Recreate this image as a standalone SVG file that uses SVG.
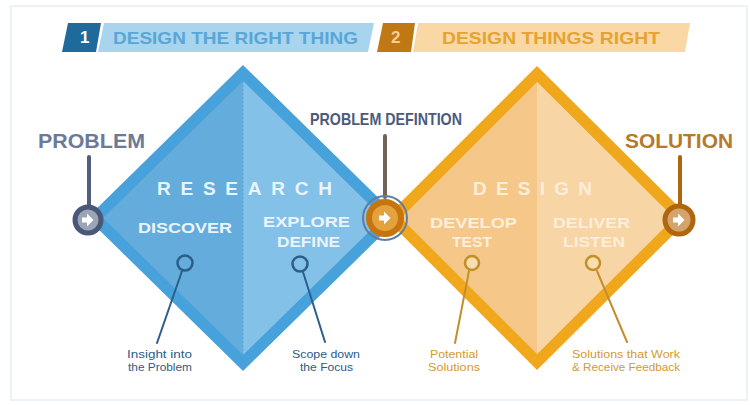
<svg xmlns="http://www.w3.org/2000/svg" width="750" height="405" viewBox="0 0 750 405">
<defs>
<style>
.hdr{font-family:"Liberation Sans","DejaVu Sans",sans-serif;font-weight:bold;font-size:17px}
.big{font-family:"Liberation Sans",sans-serif;font-weight:bold;font-size:20px}
.mid{font-family:"Liberation Sans",sans-serif;font-weight:bold;font-size:15px}
.phase{font-family:"Liberation Sans",sans-serif;font-weight:bold;font-size:19px}
.sm{font-family:"Liberation Sans",sans-serif;font-size:11px}
.bt{fill:#EAF4FB}
.ot{fill:#FCEEDA}
.blab{fill:#2B5C86}
.olab{fill:#D39A32}
.arrow{fill:#FFFFFF}
</style>
<path id="arr" d="M-6,-2.5 h5 v-4 l6.5,6.5 l-6.5,6.5 v-4 h-5 z"/>
</defs>
<rect x="0" y="0" width="750" height="405" fill="#FFFFFF"/>
<rect x="11" y="6" width="736" height="394" fill="none" stroke="#E6EEF4" stroke-width="1.5"/>

<g id="header1">
<polygon points="68,23 101,23 96,52 62,52" fill="#1E6A9A"/>
<text class="hdr" x="80" y="43" fill="#FFFFFF" font-size="13">1</text>
<polygon points="104,23 374,23 368,52 98,52" fill="#A8D4EE"/>
<text class="hdr" x="113" y="44" fill="#5AA6D6" textLength="245" lengthAdjust="spacingAndGlyphs">DESIGN THE RIGHT THING</text>
</g>
<g id="header2">
<polygon points="383,23 415,23 411,52 377,52" fill="#C07814"/>
<text class="hdr" x="391" y="43" fill="#F6CF95" font-size="13">2</text>
<polygon points="418,23 690,23 685,52 413,52" fill="#F9D8A6"/>
<text class="hdr" x="442" y="44" fill="#E5A332" textLength="218" lengthAdjust="spacingAndGlyphs">DESIGN THINGS RIGHT</text>
</g>

<g id="research">
<polygon points="243,65 399,218 243,371 87,218" fill="#47A1DA"/>
<polygon points="243,81 383,218 243,355 103,218" fill="#64ACDB"/>
<polygon points="243,81 383,218 243,355" fill="#84C1E8"/>
<line x1="243" y1="81" x2="243" y2="355" stroke="#5FA6D6" stroke-width="1" stroke-dasharray="2,2"/>
<text class="phase bt" x="157" y="195" textLength="175" lengthAdjust="spacing">RESEARCH</text>
<text class="mid bt" x="138" y="233" textLength="94" lengthAdjust="spacingAndGlyphs">DISCOVER</text>
<text class="mid bt" x="263" y="227" textLength="87" lengthAdjust="spacingAndGlyphs">EXPLORE</text>
<text class="mid bt" x="277" y="247" textLength="63" lengthAdjust="spacingAndGlyphs">DEFINE</text>
</g>

<g id="design">
<polygon points="537,66 690,218 537,370 385,218" fill="#F1A71C"/>
<polygon points="537,82 674,218 537,354 401,218" fill="#F5C889"/>
<polygon points="537,82 674,218 537,354" fill="#F7D5A5"/>
<text class="phase ot" x="473" y="195" textLength="119" lengthAdjust="spacing">DESIGN</text>
<text class="mid ot" x="430" y="228" textLength="87" lengthAdjust="spacingAndGlyphs">DEVELOP</text>
<text class="mid ot" x="452" y="247" textLength="40" lengthAdjust="spacingAndGlyphs">TEST</text>
<text class="mid ot" x="553" y="228" textLength="77" lengthAdjust="spacingAndGlyphs">DELIVER</text>
<text class="mid ot" x="563" y="247" textLength="62" lengthAdjust="spacingAndGlyphs">LISTEN</text>
</g>

<g id="connectors" fill="none" stroke-linecap="round">
<line x1="89" y1="157" x2="89" y2="206" stroke="#4E5E7E" stroke-width="4"/>
<line x1="385" y1="136" x2="385" y2="197" stroke="#6F6456" stroke-width="4"/>
<line x1="680" y1="157" x2="680" y2="205" stroke="#B0650F" stroke-width="4"/>
<line x1="182" y1="271" x2="157" y2="343" stroke="#2D5E8A" stroke-width="2"/>
<line x1="303" y1="272" x2="325" y2="342" stroke="#2D5E8A" stroke-width="2"/>
<line x1="469" y1="271" x2="455" y2="343" stroke="#C38F2A" stroke-width="2"/>
<line x1="597" y1="271" x2="627" y2="342" stroke="#C38F2A" stroke-width="2"/>
</g>

<g id="problem">
<text class="big" x="38" y="148" fill="#6C7A98" textLength="107" lengthAdjust="spacingAndGlyphs">PROBLEM</text>
<circle cx="88" cy="220" r="13" fill="#9AA5B8" stroke="#4A5878" stroke-width="5"/>
<use href="#arr" x="88" y="220" class="arrow"/>
</g>

<g id="problem-definition">
<text class="hdr" x="310" y="125" fill="#4A5B7C" font-size="12" textLength="152" lengthAdjust="spacingAndGlyphs">PROBLEM DEFINTION</text>
<circle cx="385" cy="218" r="22" fill="none" stroke="#5F7EA3" stroke-width="2"/>
<circle cx="385" cy="218" r="16" fill="#E3A23C" stroke="#C5740E" stroke-width="6"/>
<use href="#arr" x="385" y="218" class="arrow"/>
</g>

<g id="solution">
<text class="big" x="625" y="148" fill="#B57A2C" textLength="108" lengthAdjust="spacingAndGlyphs">SOLUTION</text>
<circle cx="679" cy="220" r="14" fill="#D4A46A" stroke="#B0650F" stroke-width="5"/>
<use href="#arr" x="679" y="220" class="arrow"/>
</g>

<g id="insight">
<circle cx="185" cy="263" r="7.5" fill="none" stroke="#2D5E8A" stroke-width="2.5"/>
<text class="sm blab" x="127" y="358" textLength="65" lengthAdjust="spacingAndGlyphs">Insight into</text>
<text class="sm blab" x="128" y="371" textLength="64" lengthAdjust="spacingAndGlyphs">the Problem</text>
</g>
<g id="scope">
<circle cx="300" cy="264" r="7.5" fill="none" stroke="#2D5E8A" stroke-width="2.5"/>
<text class="sm blab" x="292" y="358" textLength="68" lengthAdjust="spacingAndGlyphs">Scope down</text>
<text class="sm blab" x="300" y="371" textLength="53" lengthAdjust="spacingAndGlyphs">the Focus</text>
</g>
<g id="potential">
<circle cx="472" cy="263" r="7" fill="#F8DDB0" stroke="#C38F2A" stroke-width="2.5"/>
<text class="sm olab" x="430" y="358" textLength="48" lengthAdjust="spacingAndGlyphs">Potential</text>
<text class="sm olab" x="428" y="371" textLength="52" lengthAdjust="spacingAndGlyphs">Solutions</text>
</g>
<g id="solutions-work">
<circle cx="593" cy="263" r="7" fill="#F8DDB0" stroke="#C38F2A" stroke-width="2.5"/>
<text class="sm olab" x="572" y="358" textLength="108" lengthAdjust="spacingAndGlyphs">Solutions that Work</text>
<text class="sm olab" x="572" y="371" textLength="108" lengthAdjust="spacingAndGlyphs">&amp; Receive Feedback</text>
</g>
</svg>
